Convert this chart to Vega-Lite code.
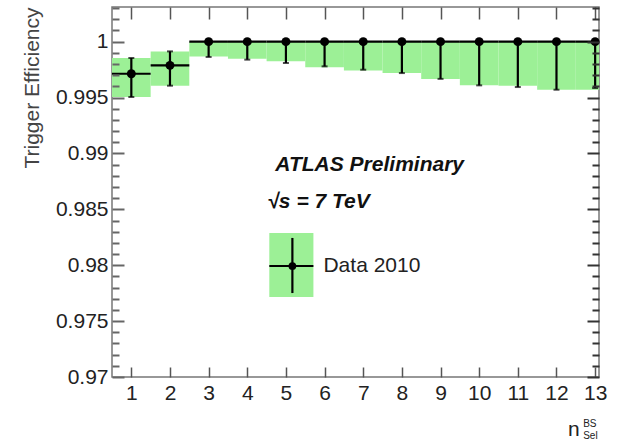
{
  "$schema": "https://vega.github.io/schema/vega-lite/v6.json",
  "width": 487,
  "height": 370,
  "autosize": {"type": "none"},
  "padding": {"left": 112, "top": 7, "right": 19, "bottom": 65},
  "background": "white",
  "config": {
    "view": {"stroke": "#777", "strokeWidth": 1.5},
    "font": "Liberation Sans",
    "axis": {"grid": false, "zindex": 1, "tickColor": "#555", "tickWidth": 1.5, "domainColor": "#777", "labelColor": "#222", "labelFont": "Liberation Sans", "titleFont": "Liberation Sans"}
  },
  "datasets": {
    "bins": [
      {"x": 1, "lo": 0.5, "hi": 1.5, "y": 0.99713, "eLo": 0.99505, "eHi": 0.99854, "bLo": 0.99505, "bHi": 0.99854},
      {"x": 2, "lo": 1.5, "hi": 2.5, "y": 0.99788, "eLo": 0.99606, "eHi": 0.99913, "bLo": 0.99606, "bHi": 0.99913},
      {"x": 3, "lo": 2.5, "hi": 3.5, "y": 1.0, "eLo": 0.99863, "eHi": 1.0, "bLo": 0.99868, "bHi": 1.0},
      {"x": 4, "lo": 3.5, "hi": 4.5, "y": 1.0, "eLo": 0.99839, "eHi": 1.0, "bLo": 0.99848, "bHi": 1.0},
      {"x": 5, "lo": 4.5, "hi": 5.5, "y": 1.0, "eLo": 0.99809, "eHi": 1.0, "bLo": 0.99824, "bHi": 1.0},
      {"x": 6, "lo": 5.5, "hi": 6.5, "y": 1.0, "eLo": 0.99779, "eHi": 1.0, "bLo": 0.9977, "bHi": 1.0},
      {"x": 7, "lo": 6.5, "hi": 7.5, "y": 1.0, "eLo": 0.99749, "eHi": 1.0, "bLo": 0.99743, "bHi": 1.0},
      {"x": 8, "lo": 7.5, "hi": 8.5, "y": 1.0, "eLo": 0.99719, "eHi": 1.0, "bLo": 0.99719, "bHi": 1.0},
      {"x": 9, "lo": 8.5, "hi": 9.5, "y": 1.0, "eLo": 0.99667, "eHi": 1.0, "bLo": 0.99666, "bHi": 1.0},
      {"x": 10, "lo": 9.5, "hi": 10.5, "y": 1.0, "eLo": 0.99609, "eHi": 1.0, "bLo": 0.99609, "bHi": 1.0},
      {"x": 11, "lo": 10.5, "hi": 11.5, "y": 1.0, "eLo": 0.99594, "eHi": 1.0, "bLo": 0.99606, "bHi": 1.0},
      {"x": 12, "lo": 11.5, "hi": 12.5, "y": 1.0, "eLo": 0.9957, "eHi": 1.0, "bLo": 0.9957, "bHi": 1.0},
      {"x": 13, "lo": 12.5, "hi": 13.5, "y": 1.0, "eLo": 0.99585, "eHi": 1.0, "bLo": 0.9957, "bHi": 1.0}
    ],
    "legend": [
      {"x0": 4.57, "x1": 5.711, "xc": 5.167, "y0": 0.97715, "y1": 0.98289, "yc": 0.97993, "v0": 0.97751, "v1": 0.98244, "label": "Data 2010", "tx": 5.971}
    ]
  },
  "resolve": {"axis": {"x": "independent", "y": "independent"}},
  "layer": [
    {
      "data": {"name": "bins"},
      "mark": {"type": "rect", "color": "#9cf096", "clip": true},
      "encoding": {
        "x": {"field": "lo", "type": "quantitative", "scale": {"domain": [0.5, 13.1], "nice": false, "zero": false},
          "axis": {"orient": "bottom", "zindex": 1, "values": [1,2,3,4,5,6,7,8,9,10,11,12,13], "tickSize": -10, "labelFontSize": 21, "labelPadding": 15, "title": null, "domain": false}},
        "x2": {"field": "hi"},
        "y": {"field": "bLo", "type": "quantitative", "scale": {"domain": [0.97, 1.0031], "nice": false, "zero": false},
          "axis": {"orient": "left", "zindex": 1, "values": [0.97,0.971,0.972,0.973,0.974,0.975,0.976,0.977,0.978,0.979,0.98,0.981,0.982,0.983,0.984,0.985,0.986,0.987,0.988,0.989,0.99,0.991,0.992,0.993,0.994,0.995,0.996,0.997,0.998,0.999,1.0,1.001,1.002,1.003],
            "labelExpr": "abs(datum.value*200 - round(datum.value*200)) < 0.01 ? format(datum.value, '.3~f') : ''",
            "tickSize": {"condition": {"test": "abs(datum.value*200 - round(datum.value*200)) < 0.01", "value": -12}, "value": -7},
            "tickColor": "#666", "tickWidth": 2,
            "labelFontSize": 21, "labelPadding": 16, "domain": false, "title": "Trigger Efficiency", "titleFontSize": 21, "titleFontWeight": "normal", "titleAnchor": "end", "titlePadding": 13, "titleColor": "#444"}},
        "y2": {"field": "bHi"}
      }
    },
    {
      "data": {"name": "bins"},
      "mark": {"type": "rule", "color": "black", "strokeWidth": 2.2, "clip": true},
      "encoding": {
        "x": {"field": "lo", "type": "quantitative", "scale": {"domain": [0.5, 13.1], "nice": false, "zero": false},
          "axis": {"orient": "top", "zindex": 1, "values": [1,2,3,4,5,6,7,8,9,10,11,12,13], "tickSize": -12, "labels": false, "title": null, "domain": false}},
        "x2": {"field": "hi"},
        "y": {"field": "y", "type": "quantitative", "scale": {"domain": [0.97, 1.0031], "nice": false, "zero": false},
          "axis": {"orient": "right", "zindex": 1, "values": [0.97,0.971,0.972,0.973,0.974,0.975,0.976,0.977,0.978,0.979,0.98,0.981,0.982,0.983,0.984,0.985,0.986,0.987,0.988,0.989,0.99,0.991,0.992,0.993,0.994,0.995,0.996,0.997,0.998,0.999,1.0,1.001,1.002,1.003],
            "tickSize": {"condition": {"test": "abs(datum.value*200 - round(datum.value*200)) < 0.01", "value": -12}, "value": -7},
            "tickColor": "#333", "tickWidth": 2,
            "labels": false, "title": null, "domain": false}}
      }
    },
    {
      "data": {"name": "bins"},
      "mark": {"type": "rule", "color": "black", "strokeWidth": 2.2},
      "encoding": {
        "x": {"field": "x", "type": "quantitative", "scale": {"domain": [0.5, 13.1], "nice": false, "zero": false}, "axis": null},
        "y": {"field": "eLo", "type": "quantitative", "scale": {"domain": [0.97, 1.0031], "nice": false, "zero": false}, "axis": null},
        "y2": {"field": "eHi"}
      }
    },
    {
      "data": {"name": "bins"},
      "transform": [{"fold": ["eLo", "eHi"], "as": ["end", "val"]}],
      "mark": {"type": "tick", "color": "black", "thickness": 2, "size": 6, "orient": "horizontal"},
      "encoding": {
        "x": {"field": "x", "type": "quantitative", "scale": {"domain": [0.5, 13.1], "nice": false, "zero": false}, "axis": null},
        "y": {"field": "val", "type": "quantitative", "scale": {"domain": [0.97, 1.0031], "nice": false, "zero": false}, "axis": null}
      }
    },
    {
      "data": {"name": "bins"},
      "mark": {"type": "circle", "color": "black", "size": 80, "opacity": 1},
      "encoding": {
        "x": {"field": "x", "type": "quantitative", "scale": {"domain": [0.5, 13.1], "nice": false, "zero": false}, "axis": null},
        "y": {"field": "y", "type": "quantitative", "scale": {"domain": [0.97, 1.0031], "nice": false, "zero": false}, "axis": null}
      }
    },
    {
      "data": {"name": "legend"},
      "mark": {"type": "rect", "color": "#9cf096"},
      "encoding": {
        "x": {"field": "x0", "type": "quantitative", "scale": {"domain": [0.5, 13.1], "nice": false, "zero": false}, "axis": null},
        "x2": {"field": "x1"},
        "y": {"field": "y0", "type": "quantitative", "scale": {"domain": [0.97, 1.0031], "nice": false, "zero": false}, "axis": null},
        "y2": {"field": "y1"}
      }
    },
    {
      "data": {"name": "legend"},
      "mark": {"type": "rule", "color": "black", "strokeWidth": 2.2},
      "encoding": {
        "x": {"field": "x0", "type": "quantitative", "scale": {"domain": [0.5, 13.1], "nice": false, "zero": false}, "axis": null},
        "x2": {"field": "x1"},
        "y": {"field": "yc", "type": "quantitative", "scale": {"domain": [0.97, 1.0031], "nice": false, "zero": false}, "axis": null}
      }
    },
    {
      "data": {"name": "legend"},
      "mark": {"type": "rule", "color": "black", "strokeWidth": 2.2},
      "encoding": {
        "x": {"field": "xc", "type": "quantitative", "scale": {"domain": [0.5, 13.1], "nice": false, "zero": false}, "axis": null},
        "y": {"field": "v0", "type": "quantitative", "scale": {"domain": [0.97, 1.0031], "nice": false, "zero": false}, "axis": null},
        "y2": {"field": "v1"}
      }
    },
    {
      "data": {"name": "legend"},
      "mark": {"type": "circle", "color": "black", "size": 60, "opacity": 1},
      "encoding": {
        "x": {"field": "xc", "type": "quantitative", "scale": {"domain": [0.5, 13.1], "nice": false, "zero": false}, "axis": null},
        "y": {"field": "yc", "type": "quantitative", "scale": {"domain": [0.97, 1.0031], "nice": false, "zero": false}, "axis": null}
      }
    },
    {
      "data": {"name": "legend"},
      "mark": {"type": "text", "align": "left", "baseline": "middle", "fontSize": 21, "color": "#222", "font": "Liberation Sans"},
      "encoding": {
        "x": {"field": "tx", "type": "quantitative", "scale": {"domain": [0.5, 13.1], "nice": false, "zero": false}, "axis": null},
        "y": {"field": "yc", "type": "quantitative", "scale": {"domain": [0.97, 1.0031], "nice": false, "zero": false}, "axis": null},
        "text": {"field": "label"}
      }
    },
    {
      "data": {"values": [{"tx": 4.726, "ty": 0.98898, "label": "ATLAS Preliminary"}, {"tx": 4.519, "ty": 0.98566, "label": "√s = 7 TeV"}]},
      "mark": {"type": "text", "align": "left", "baseline": "middle", "fontSize": 21, "fontWeight": "bold", "fontStyle": "italic", "color": "#111", "font": "Liberation Sans"},
      "encoding": {
        "x": {"field": "tx", "type": "quantitative", "scale": {"domain": [0.5, 13.1], "nice": false, "zero": false}, "axis": null},
        "y": {"field": "ty", "type": "quantitative", "scale": {"domain": [0.97, 1.0031], "nice": false, "zero": false}, "axis": null},
        "text": {"field": "label"}
      }
    },
    {
      "data": {"values": [{"tx": 12.3, "ty": 0.96472, "label": "n"}]},
      "mark": {"type": "text", "align": "left", "baseline": "alphabetic", "fontSize": 21, "color": "#222", "font": "Liberation Sans"},
      "encoding": {
        "x": {"field": "tx", "type": "quantitative", "scale": {"domain": [0.5, 13.1], "nice": false, "zero": false}, "axis": null},
        "y": {"field": "ty", "type": "quantitative", "scale": {"domain": [0.97, 1.0031], "nice": false, "zero": false}, "axis": null},
        "text": {"field": "label"}
      }
    },
    {
      "data": {"values": [{"tx": 12.69, "ty": 0.96552, "label": "BS"}, {"tx": 12.69, "ty": 0.96445, "label": "Sel"}]},
      "mark": {"type": "text", "align": "left", "baseline": "alphabetic", "fontSize": 10, "color": "#222", "font": "Liberation Sans"},
      "encoding": {
        "x": {"field": "tx", "type": "quantitative", "scale": {"domain": [0.5, 13.1], "nice": false, "zero": false}, "axis": null},
        "y": {"field": "ty", "type": "quantitative", "scale": {"domain": [0.97, 1.0031], "nice": false, "zero": false}, "axis": null},
        "text": {"field": "label"}
      }
    }
  ]
}
